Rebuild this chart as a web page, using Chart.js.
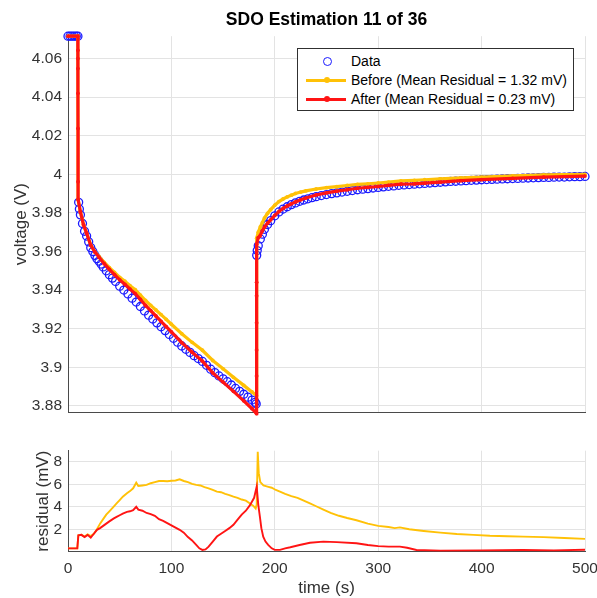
<!DOCTYPE html>
<html>
<head>
<meta charset="utf-8">
<script src="https://cdn.jsdelivr.net/npm/chart.js@4.4.1/dist/chart.umd.min.js"></script>
<style>
  html, body { margin: 0; padding: 0; background: #fff; }
  body { width: 597px; height: 598px; position: relative; overflow: hidden; font-family: "Liberation Sans", Arial, sans-serif; }
  #top-chart { position: absolute; left: 0; top: 0; }
  #res-chart { position: absolute; left: 0; top: 430px; }
  #legend { position: absolute; left: 297px; top: 48px; width: 275px; height: 61px; border: 1px solid #303030; background: #fff; font-size: 14px; color: #000; }
  .lg-row { position: absolute; left: 0; height: 18px; width: 100%; }
  .lg-text { position: absolute; left: 53px; top: 0; line-height: 18px; white-space: nowrap; }
  .lg-line { position: absolute; left: 8px; top: 7.5px; width: 40px; height: 3px; }
  .lg-dot { position: absolute; left: 25.5px; top: 6px; width: 6px; height: 6px; border-radius: 50%; }
  .lg-circle { position: absolute; left: 25px; top: 4.5px; width: 7px; height: 7px; border-radius: 50%; border: 1.3px solid #1a1aff; }
</style>
</head>
<body>
<canvas id="top-chart" width="620" height="430"></canvas>
<canvas id="res-chart" width="620" height="169"></canvas>
<div id="legend">
  <div class="lg-row" style="top:3px"><div class="lg-circle"></div><div class="lg-text">Data</div></div>
  <div class="lg-row" style="top:22px"><div class="lg-line" style="background:#ffc107"></div><div class="lg-dot" style="background:#ffc107"></div><div class="lg-text" id="lg-before"></div></div>
  <div class="lg-row" style="top:41px"><div class="lg-line" style="background:#ff1414"></div><div class="lg-dot" style="background:#ff1414"></div><div class="lg-text" id="lg-after"></div></div>
</div>
<script>
"use strict";

const TITLE = "SDO Estimation 11 of 36";
const LABEL_BEFORE = "Before (Mean Residual = 1.32 mV)";
const LABEL_AFTER = "After (Mean Residual = 0.23 mV)";

const T_TICKS = [0, 100, 200, 300, 400, 500];
const V_TICKS = [3.88, 3.9, 3.92, 3.94, 3.96, 3.98, 4, 4.02, 4.04, 4.06];
const V_TICK_LABELS = ["3.88", "3.9", "3.92", "3.94", "3.96", "3.98", "4", "4.02", "4.04", "4.06"];
const R_TICKS = [2, 4, 6, 8];

// measured voltage (blue circles)
const DATA_T = [0, 2, 4, 6, 8, 9.6,
  10.3, 11, 12, 14, 16, 18, 20, 22, 24, 26, 28, 30, 32, 34, 37, 40, 43, 46, 50, 54, 58, 62, 66, 70,
  74, 78, 82, 86, 90, 94, 98, 102, 106, 110, 114, 118, 122, 126, 130, 134, 138, 142, 146, 150,
  154, 158, 162, 166, 170, 174, 178, 181, 182,
  182.5, 183, 184, 186, 188, 190, 193, 196, 200, 204, 208, 212, 216, 220, 224, 228, 232, 236, 240,
  245, 250, 255, 260, 265, 270, 275, 280, 285, 290, 295, 300, 305, 310, 315, 320, 325, 330, 335,
  340, 345, 350, 355, 360, 365, 370, 375, 380, 385, 390, 395, 400, 405, 410, 415, 420, 425, 430,
  435, 440, 445, 450, 455, 460, 465, 470, 475, 480, 485, 490, 495, 500];
const DATA_V = [4.0716, 4.0716, 4.0716, 4.0716, 4.0716, 4.0716,
  3.9855, 3.982, 3.979, 3.9745, 3.9705, 3.968, 3.965, 3.962, 3.960, 3.958, 3.9563, 3.955, 3.9535, 3.952, 3.950, 3.948, 3.9462, 3.9445, 3.942, 3.940, 3.938, 3.9358, 3.9338, 3.9315,
  3.9292, 3.927, 3.925, 3.923, 3.921, 3.919, 3.917, 3.915, 3.913, 3.911, 3.9093, 3.9077, 3.906, 3.9045, 3.903, 3.901, 3.899, 3.8972, 3.8955, 3.894,
  3.8925, 3.8908, 3.889, 3.8875, 3.886, 3.8845, 3.883, 3.8818, 3.881,
  3.958, 3.9605, 3.963, 3.9665, 3.969, 3.9715, 3.974, 3.976, 3.9785, 3.9805, 3.982, 3.9832, 3.9843, 3.9852, 3.986, 3.9867, 3.9873, 3.9879, 3.9884,
  3.989, 3.9895, 3.990, 3.9904, 3.9908, 3.9912, 3.9916, 3.992, 3.9923, 3.9926, 3.9929, 3.9932, 3.9935, 3.9938, 3.994, 3.9943, 3.9945, 3.9947, 3.9949,
  3.9951, 3.9953, 3.9955, 3.9957, 3.9959, 3.9961, 3.9963, 3.9964, 3.9966, 3.9967, 3.9969, 3.997, 3.9972, 3.9973, 3.9974, 3.9975, 3.9976, 3.9977, 3.9978,
  3.9979, 3.998, 3.9981, 3.9982, 3.9983, 3.9984, 3.9984, 3.9985, 3.9986, 3.9986, 3.9987, 3.9988, 3.9988, 3.9989];

// model before estimation (yellow)
const BEFORE_T = [0, 9.5, 9.7, 12, 15, 18, 22, 26, 30, 35, 40, 45, 50, 55, 60, 65, 70, 75, 80, 85, 90, 95, 100,
  110, 120, 130, 140, 150, 160, 170, 178, 182.3, 182.5, 184, 186, 188, 190, 193, 196, 200, 204, 208, 212, 216,
  220, 225, 230, 240, 250, 260, 270, 280, 290, 300, 310, 322, 335, 345, 360, 380, 400, 430, 460, 500];
const BEFORE_V = [4.0716, 4.0716, 3.987, 3.9805, 3.9739, 3.9696, 3.9634, 3.9598, 3.9574, 3.9544, 3.9516, 3.9491, 3.9466, 3.9446, 3.9423, 3.9402, 3.9374, 3.9346, 3.9321, 3.9297, 3.9273, 3.9248, 3.9223,
  3.9174, 3.9129, 3.9088, 3.9035, 3.8992, 3.8948, 3.8906, 3.8872, 3.8853, 3.9669, 3.970, 3.9727, 3.9749, 3.9773, 3.9798, 3.9817, 3.984, 3.9859, 3.9872, 3.9883, 3.9892,
  3.9901, 3.9908, 3.9914, 3.9924, 3.9931, 3.9936, 3.9942, 3.9948, 3.9951, 3.9955, 3.996, 3.9966, 3.9969, 3.9972, 3.9976, 3.9982, 3.9986, 3.9992, 3.9997, 4.0000];

// model after estimation (red)
const AFTER_T = [0, 9.5, 9.6, 9.6, 9.6, 9.65, 9.7, 9.75, 9.8, 12, 15, 18, 22, 26, 30, 35, 40, 45, 50, 55, 60, 65, 70, 75, 80, 85, 90, 95, 100,
  110, 120, 130, 140, 150, 160, 170, 178, 182.3, 182.4, 182.4, 182.4, 182.4, 182.4, 182.45, 182.5,
  184, 185.6, 188, 190, 193, 196, 200, 204, 208, 212, 216, 220, 225, 230, 240, 250, 260, 270, 280, 290, 300, 310, 322, 335, 345, 360, 380, 400, 430, 460, 500];
const AFTER_V = [4.0716, 4.0716, 4.0643, 4.060, 4.0548, 4.042, 4.0238, 3.9962, 3.987, 3.9805, 3.9738, 3.9695, 3.9632, 3.9598, 3.957, 3.9537, 3.9507, 3.948, 3.9453, 3.943, 3.9405, 3.9382, 3.9352, 3.932, 3.9294, 3.9266, 3.9238, 3.921, 3.9183,
  3.9128, 3.9078, 3.9032, 3.8971, 3.8923, 3.8875, 3.8826, 3.8785, 3.876, 3.8835, 3.8955, 3.909, 3.923, 3.937, 3.944, 3.9638,
  3.9672, 3.968, 3.9707, 3.9726, 3.9747, 3.9764, 3.9787, 3.9807, 3.9823, 3.9836, 3.9847, 3.9857, 3.9868, 3.9877, 3.9893, 3.9904, 3.9913, 3.992, 3.9928, 3.9932, 3.9937, 3.9943, 3.9949, 3.9951, 3.9954, 3.996, 3.9967, 3.9973, 3.9979, 3.9985, 3.9991];

// residuals (mV)
const RES_BEFORE_T = [0, 4, 9, 10, 13, 16, 19, 22, 25, 28, 31, 34, 37, 40, 44, 47, 50, 53, 57, 60, 63, 66, 68, 72, 76, 80, 84, 88, 92, 96, 100,
  104, 108, 112, 116, 120, 124, 128, 132, 136, 140, 144, 148, 152, 156, 160, 164, 168, 172, 176, 179, 181.5, 182.5, 183.5, 184.5, 186, 189,
  193, 197, 201, 205, 210, 216, 222, 228, 234, 240, 247, 254, 262, 270, 279, 290, 300, 310, 316, 321, 330, 344, 360, 376, 392, 408, 425,
  440, 460, 480, 500];
const RES_BEFORE = [0.3, 0.3, 0.3, 1.45, 1.5, 1.35, 1.55, 1.4, 1.6, 2.0, 2.5, 2.9, 3.3, 3.6, 4.0, 4.3, 4.6, 4.9, 5.2, 5.4, 5.65, 6.15, 5.85, 5.9, 5.95, 6.1, 6.2, 6.3, 6.3, 6.28, 6.32,
  6.35, 6.45, 6.3, 6.2, 6.05, 5.95, 5.9, 5.75, 5.65, 5.5, 5.35, 5.3, 5.15, 5.05, 4.9, 4.8, 4.65, 4.55, 4.3, 4.1, 3.85, 4.2, 8.9, 7.0, 6.2, 5.9,
  5.8, 5.7, 5.5, 5.35, 5.15, 4.95, 4.8, 4.55, 4.3, 4.05, 3.75, 3.45, 3.2, 3.0, 2.8, 2.5, 2.3, 2.2, 2.1, 2.17, 2.0, 1.85, 1.7, 1.58, 1.5, 1.42, 1.38,
  1.34, 1.3, 1.22, 1.14];

const RES_AFTER_T = [0, 4, 9, 10, 13, 16, 19, 22, 25, 28, 31, 34, 37, 40, 44, 47, 50, 53, 57, 60, 63, 66, 68, 72, 76, 80, 84, 88, 92, 96, 100,
  104, 108, 112, 116, 120, 124, 127, 130, 133, 136, 140, 144, 148, 152, 156, 160, 164, 168, 172, 176, 180, 182.5, 184, 185.6, 187, 188.8,
  191, 193.6, 197, 200, 205, 210, 215, 224, 234, 247, 260, 279, 290, 300, 310, 321, 328, 337, 360, 400, 440, 470, 500];
const RES_AFTER = [0.3, 0.3, 0.3, 1.45, 1.5, 1.3, 1.5, 1.25, 1.6, 1.95, 2.1, 2.3, 2.5, 2.7, 2.95, 3.1, 3.25, 3.4, 3.55, 3.6, 3.7, 4.0, 3.75, 3.65, 3.45, 3.35, 3.2, 2.9, 2.75, 2.55, 2.35,
  2.15, 1.95, 1.7, 1.3, 1.0, 0.6, 0.3, 0.16, 0.2, 0.45, 0.9, 1.35, 1.6, 1.85, 2.1, 2.4, 2.85, 3.3, 3.65, 4.15, 4.8, 5.8, 4.2, 3.1, 2.1, 1.34,
  0.9, 0.6, 0.3, 0.16, 0.16, 0.3, 0.4, 0.6, 0.8, 0.9, 0.85, 0.75, 0.6, 0.5, 0.45, 0.45, 0.35, 0.15, 0.1, 0.12, 0.15, 0.12, 0.18];

const COLORS = {
  data: "#1a1aff",
  before: "#ffc107",
  after: "#ff1414",
  grid: "#e3e3e3",
  axis: "#4a4a4a",
  tick: "#333333",
};
const FONT = "'Liberation Sans', Arial, sans-serif";

document.getElementById("lg-before").textContent = LABEL_BEFORE;
document.getElementById("lg-after").textContent = LABEL_AFTER;

function pts(xs, ys) {
  return xs.map((x, i) => ({ x, y: ys[i] }));
}

function fixedTicks(values) {
  return scale => { scale.ticks = values.map(v => ({ value: v })); };
}

function lineSet(label, data, color, width, dot) {
  return {
    label,
    data,
    showLine: true,
    borderColor: color,
    backgroundColor: color,
    borderWidth: width,
    pointRadius: dot,
    pointBorderWidth: 0,
    pointHoverRadius: 0,
    tension: 0,
  };
}

// canvases are wider/taller than the plot so the scales' label padding never squeezes the plot area
new Chart(document.getElementById("top-chart"), {
  type: "scatter",
  data: {
    datasets: [
      { ...lineSet("After", pts(AFTER_T, AFTER_V), COLORS.after, 3.2, 1.9), clip: false },
      { ...lineSet("Before", pts(BEFORE_T, BEFORE_V), COLORS.before, 3.2, 1.9), clip: false },
      {
        label: "Data",
        data: pts(DATA_T, DATA_V),
        showLine: false,
        pointStyle: "circle",
        pointRadius: 4,
        borderColor: COLORS.data,
        backgroundColor: "rgba(0,0,0,0)",
        borderWidth: 1.3,
        clip: false,
      },
    ],
  },
  options: {
    responsive: false,
    animation: false,
    events: [],
    layout: { padding: { left: 0, right: 35, top: 0, bottom: 0 } },
    plugins: {
      legend: { display: false },
      tooltip: { enabled: false },
      title: {
        display: true,
        text: TITLE,
        fullSize: false,
        color: "#000",
        font: { family: FONT, size: 17.5, weight: "bold" },
        padding: { top: 10, bottom: 5.2 },
      },
    },
    scales: {
      x: {
        type: "linear",
        min: 0,
        max: 500,
        afterBuildTicks: fixedTicks(T_TICKS),
        afterFit: s => { s.height = 18; },
        ticks: { display: false },
        grid: { color: COLORS.grid, drawTicks: false },
        border: { color: COLORS.axis, width: 1 },
      },
      y: {
        min: 3.8768,
        max: 4.0716,
        afterBuildTicks: fixedTicks(V_TICKS),
        afterFit: s => { s.width = 68; },
        ticks: {
          padding: 6,
          color: COLORS.tick,
          font: { family: FONT, size: 15.5 },
          callback: v => V_TICK_LABELS[V_TICKS.indexOf(v)],
        },
        grid: { color: COLORS.grid, drawTicks: false },
        border: { color: COLORS.axis, width: 1 },
        title: {
          display: true,
          text: "voltage (V)",
          color: COLORS.tick,
          font: { family: FONT, size: 17 },
          padding: { top: 11, bottom: 0 },
        },
      },
    },
  },
});

new Chart(document.getElementById("res-chart"), {
  type: "scatter",
  data: {
    datasets: [
      lineSet("After", pts(RES_AFTER_T, RES_AFTER), COLORS.after, 1.9, 0),
      lineSet("Before", pts(RES_BEFORE_T, RES_BEFORE), COLORS.before, 1.9, 0),
    ],
  },
  options: {
    responsive: false,
    animation: false,
    events: [],
    layout: { padding: { left: 22, right: 35, top: 20.7, bottom: 0 } },
    plugins: { legend: { display: false }, tooltip: { enabled: false } },
    scales: {
      x: {
        type: "linear",
        min: 0,
        max: 500,
        afterBuildTicks: fixedTicks(T_TICKS),
        afterFit: s => { s.height = 47.3; },
        ticks: { padding: 8, color: COLORS.tick, font: { family: FONT, size: 15.5 }, maxRotation: 0 },
        grid: { color: COLORS.grid, drawTicks: false },
        border: { color: COLORS.axis, width: 1 },
        title: {
          display: true,
          text: "time (s)",
          color: COLORS.tick,
          font: { family: FONT, size: 17 },
          padding: { top: 0, bottom: 0 },
        },
      },
      y: {
        min: 0,
        max: 9,
        afterBuildTicks: fixedTicks(R_TICKS),
        afterFit: s => { s.width = 46; },
        ticks: { padding: 6, color: COLORS.tick, font: { family: FONT, size: 15.5 } },
        grid: { color: COLORS.grid, drawTicks: false },
        border: { color: COLORS.axis, width: 1 },
        title: {
          display: true,
          text: "residual (mV)",
          color: COLORS.tick,
          font: { family: FONT, size: 17 },
          padding: { top: 11, bottom: 0 },
        },
      },
    },
  },
});
</script>
</body>
</html>
